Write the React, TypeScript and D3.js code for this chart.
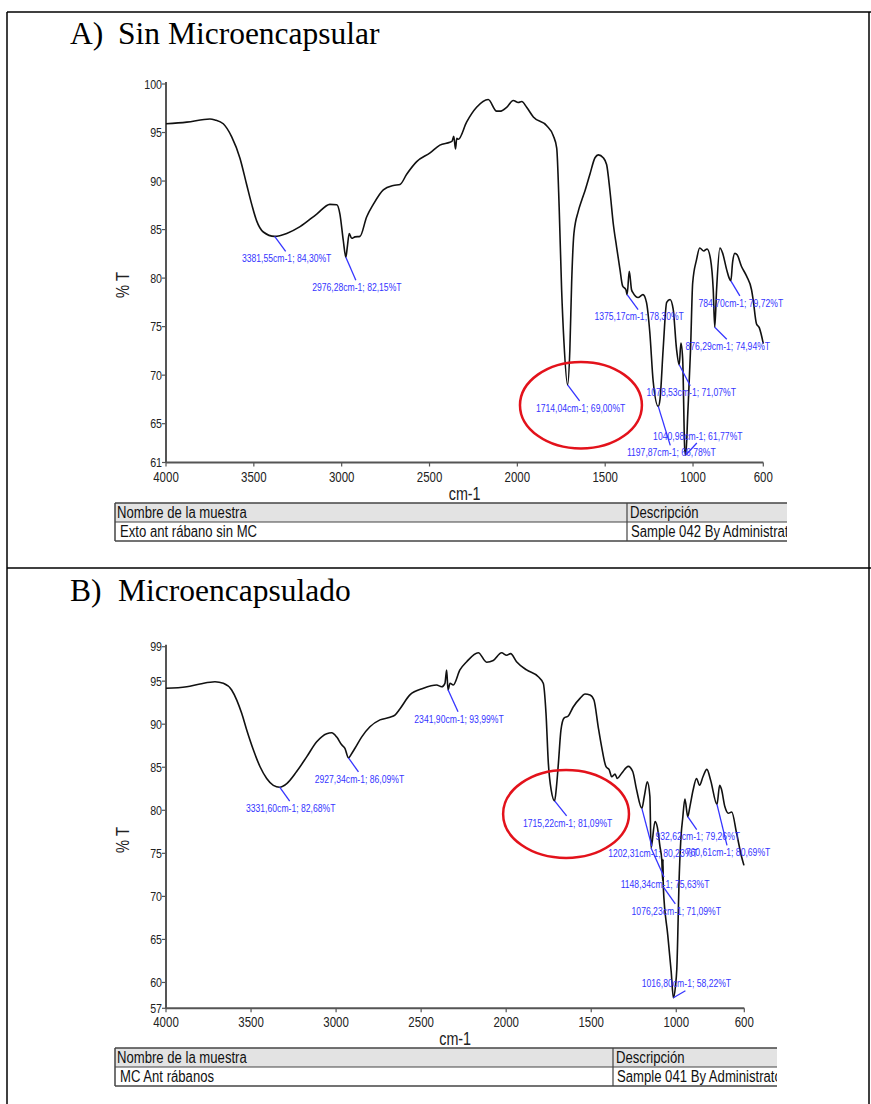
import React from 'react';
import * as d3 from 'd3';

// ---------- shared axis ticks ----------
const xTicks = [4000, 3500, 3000, 2500, 2000, 1500, 1000, 600];
const yTicksA = [100, 95, 90, 85, 80, 75, 70, 65, 61];
const yTicksB = [99, 95, 90, 85, 80, 75, 70, 65, 60, 57];

// ---------- spectrum A : Sin Microencapsular ----------
const wavenumberA = [
  4000, 3882, 3750, 3721, 3674, 3626, 3579, 3541, 3512, 3484, 3446, 3381.55, 3313, 3237, 3142, 3067, 3028, 3010, 2991,
  2976.28, 2968, 2957, 2943, 2924, 2896, 2858, 2820, 2763, 2706, 2668, 2630, 2573, 2497, 2441, 2384, 2372, 2362, 2352,
  2345, 2336, 2289, 2232, 2166, 2118, 2099, 2061, 2023, 1995, 1975, 1947, 1909, 1833, 1796, 1776, 1762, 1748, 1735,
  1714.04, 1701, 1691, 1678, 1653, 1634, 1615, 1587, 1558, 1539, 1511, 1492, 1473, 1454, 1435, 1416, 1401, 1382,
  1375.17, 1363, 1350, 1342, 1313, 1285, 1265, 1246, 1227, 1197.87, 1188, 1170, 1150, 1131, 1113, 1094, 1078.53, 1069,
  1059, 1047, 1040.98, 1030, 1014, 1002, 980, 962, 939, 920, 900, 885, 876.29, 866, 847, 832, 809, 794, 784.7, 775,
  762, 749, 724, 695, 667, 658, 639, 623, 600,
];
const transmittanceA = [
  95.9, 96.07, 96.4, 96.3, 95.9, 94.55, 92.36, 89.65, 87.6, 85.9, 84.75, 84.3, 84.6, 85.3, 86.6, 87.6, 87.55, 86.6, 83.9,
  82.15, 83.2, 84.6, 84.1, 84.25, 84.3, 86.3, 87.6, 89.1, 89.55, 89.65, 90.7, 92.0, 92.9, 93.7, 94.0, 94.1, 94.6, 93.3,
  94.4, 94.3, 96.07, 97.6, 98.4, 97.2, 97.2, 97.6, 98.3, 98.1, 98.2, 97.6, 96.6, 95.7, 94.7, 93.4, 87.3, 78.8, 73.5,
  69.0, 72.7, 79.5, 84.6, 86.9, 88.0, 89.0, 90.7, 92.4, 92.7, 92.4, 91.7, 89.0, 85.6, 83.2, 80.9, 79.2, 78.8,
  78.3, 80.7, 78.8, 78.5, 78.0, 78.3, 77.5, 74.4, 69.4, 66.78, 67.5, 72.7, 77.5, 77.8, 76.8, 72.7, 71.07, 73.3,
  71.7, 62.3, 61.77, 66.0, 72.7, 79.5, 81.9, 83.1, 82.8, 83.0, 81.9, 78.8, 74.94, 78.8, 83.1, 82.6, 80.9, 80.0, 79.72, 81.6,
  82.55, 82.4, 81.2, 80.2, 78.8, 77.8, 75.3, 74.9, 73.25,
];
const peakWavenumberA = [3381.55, 2976.28, 1714.04, 1375.17, 784.7, 876.29, 1078.53, 1040.98, 1197.87];
const peakTransmittanceA = [84.3, 82.15, 69.0, 78.3, 79.72, 74.94, 71.07, 61.77, 66.78];

// ---------- spectrum B : Microencapsulado ----------
const wavenumberB = [
  4000, 3878, 3800, 3712, 3663, 3614, 3584, 3555, 3525, 3486, 3447, 3408, 3369, 3331.6, 3290, 3232, 3173, 3114, 3055,
  3026, 2996, 2967, 2948, 2927.34, 2908, 2889, 2850, 2801, 2742, 2683, 2654, 2624, 2566, 2487, 2409, 2379, 2360, 2350,
  2341.9, 2330, 2311, 2272, 2232, 2164, 2115, 2076, 2027, 1997, 1974, 1939, 1880, 1811, 1782, 1766, 1752, 1735,
  1715.22, 1705, 1693, 1678, 1660, 1635, 1606, 1566, 1537, 1507, 1484, 1459, 1439, 1413, 1394, 1380, 1360, 1347, 1321,
  1282, 1256, 1233, 1202.31, 1188, 1170, 1155, 1148.34, 1125, 1112, 1096, 1085, 1080, 1078, 1076.23, 1050, 1030,
  1016.8, 1005, 997, 982, 970, 963, 949, 932.62, 920, 901, 881, 863, 843, 820, 798, 760.61, 745, 735, 714, 694, 674,
  645, 616, 602,
];
const transmittanceB = [
  94.17, 94.35, 94.67, 94.93, 94.75, 93.97, 92.8, 91.26, 89.3, 87.0, 85.06, 83.7, 82.9, 82.68, 83.1, 84.5, 86.2, 87.96, 88.9,
  89.0, 88.5, 87.6, 87.2, 86.09, 86.6, 87.2, 88.5, 89.7, 90.5, 90.8, 91.06, 91.8, 93.4, 94.17, 94.55, 94.35, 94.75, 96.3,
  93.99, 94.75, 94.55, 96.3, 97.26, 98.3, 97.2, 97.4, 98.3, 98.0, 98.2, 97.26, 96.3, 95.5, 94.75, 91.3, 85.45, 82.3,
  81.09, 82.6, 85.45, 89.3, 90.7, 90.95, 92.0, 93.0, 93.5, 93.4, 92.8, 89.7, 87.4, 85.06, 84.7, 83.9, 84.2, 83.7, 84.3,
  85.1, 84.5, 82.35, 80.23, 81.6, 83.3, 81.6, 75.63, 78.7, 78.1, 75.8, 74.2, 71.8, 74.3, 71.09, 65.5, 61.3,
  58.22, 59.5, 61.5, 72.7, 77.5, 78.9, 81.3, 79.26, 80.4, 82.35, 83.7, 82.9, 83.9, 84.75, 83.5, 80.69, 82.9, 82.5, 80.4, 79.65, 79.8,
  77.3, 74.6, 73.6,
];
const peakWavenumberB = [3331.6, 2927.34, 2341.9, 1715.22, 1202.31, 1148.34, 1076.23, 1016.8, 932.62, 760.61];
const peakTransmittanceB = [82.68, 86.09, 93.99, 81.09, 80.23, 75.63, 71.09, 58.22, 79.26, 80.69];

// ---------- layout (pixel offsets of the peak leader lines) ----------
const leaderA = [[11, 15], [10, 23], [12, 16], [11, 15], [9, 15], [12, 12], [11, 21], [11, -12], [12, 39]];
const leaderB = [[10, 14], [10, 14], [10, 22], [12, 15], [10, 38], [13, 29], [12, 17], [12, -7], [9, 13], [10, 41]];

const SANS = "'Liberation Sans', Arial, sans-serif";
const SERIF = "'Liberation Serif', 'Times New Roman', serif";
const BLUE = '#3535ff';
const AXIS = '#555555';
const NARROW_SCALE = 0.82;

const fmt = (v: number) => d3.format('.2f')(v).replace('.', ',');

// text drawn with a horizontal squeeze to imitate Arial Narrow
function NText({
  x,
  y,
  size,
  anchor = 'start',
  fill = '#222',
  rotate = 0,
  dy,
  children,
}: {
  x: number;
  y: number;
  size: number;
  anchor?: string;
  fill?: string;
  rotate?: number;
  dy?: string;
  children: React.ReactNode;
}) {
  return (
    <text
      transform={`translate(${x},${y})${rotate ? ` rotate(${rotate})` : ''} scale(${NARROW_SCALE},1)`}
      textAnchor={anchor as any}
      fontFamily={SANS}
      fontSize={size}
      fill={fill}
      dy={dy}
    >
      {children}
    </text>
  );
}

type Cfg = {
  id: string;
  letter: string;
  title: string;
  titleY: number;
  wn: number[];
  t: number[];
  pw: number[];
  pt: number[];
  leader: number[][];
  xRange: [number, number];
  yDomain: [number, number];
  yRange: [number, number];
  yTicks: number[];
  yLabelY: number;
  circle: { wn: number; t: number; halfWn: number; halfT: number };
  tableY: number;
  tableX0: number;
  tableCol: number;
  tableX1: number;
  name: string;
  desc: string;
};

function Panel({ c }: { c: Cfg }) {
  const x = d3.scaleLinear().domain([4000, 600]).range(c.xRange);
  const y = d3.scaleLinear().domain(c.yDomain).range(c.yRange);
  const line = d3
    .line<number>()
    .x((w) => x(w))
    .y((_, i) => y(c.t[i]))
    .curve(d3.curveMonotoneX);
  const path = line(c.wn) || '';
  const axisY = c.yRange[0];
  const axisTop = c.yRange[1];
  const rowH = 19;
  const ellCx = x(c.circle.wn);
  const ellCy = y(c.circle.t);
  const ellRx = Math.abs(x(c.circle.wn + c.circle.halfWn) - ellCx);
  const ellRy = Math.abs(y(c.circle.t + c.circle.halfT) - ellCy);
  return (
    <g>
      <text x={70} y={c.titleY} fontFamily={SERIF} fontSize={31.5} fill="#000">
        {c.letter}
      </text>
      <text x={118} y={c.titleY} fontFamily={SERIF} fontSize={31.5} fill="#000">
        {c.title}
      </text>

      {/* axes */}
      <line x1={c.xRange[0]} x2={c.xRange[0]} y1={axisTop - 2} y2={axisY} stroke={AXIS} strokeWidth={2} />
      <line x1={c.xRange[0]} x2={c.xRange[1]} y1={axisY} y2={axisY} stroke={AXIS} strokeWidth={2} />
      {c.yTicks.map((v) => (
        <g key={'y' + v}>
          <line x1={c.xRange[0] - 4} x2={c.xRange[0]} y1={y(v)} y2={y(v)} stroke={AXIS} strokeWidth={1.2} />
          <NText x={c.xRange[0] - 4} y={y(v)} dy="0.35em" anchor="end" size={13}>
            {v}
          </NText>
        </g>
      ))}
      {xTicks.map((v) => (
        <g key={'x' + v}>
          <line x1={x(v)} x2={x(v)} y1={axisY} y2={axisY + 4} stroke={AXIS} strokeWidth={1.2} />
          <NText x={x(v)} y={axisY + 19} anchor="middle" size={14}>
            {v}
          </NText>
        </g>
      ))}
      <NText x={(c.xRange[0] + c.xRange[1]) / 2} y={axisY + 37} anchor="middle" size={17.5}>
        cm-1
      </NText>
      <NText x={c.xRange[0] - 37} y={c.yLabelY} rotate={-90} anchor="middle" size={18}>
        % T
      </NText>

      {/* spectrum */}
      <path d={path} fill="none" stroke="#111" strokeWidth={1.6} strokeLinejoin="round" />

      {/* peak annotations */}
      {c.pw.map((w, i) => {
        const px = x(w);
        const py = y(c.pt[i]);
        const [dx, dy] = c.leader[i];
        const ex = px + dx;
        const ey = py + dy;
        return (
          <g key={'p' + i}>
            <line x1={px} y1={py} x2={ex} y2={ey} stroke={BLUE} strokeWidth={1.3} />
            <NText x={ex + 1} y={dy > 0 ? ey + 7 : ey - 7} dy="0.35em" anchor="middle" size={10.5} fill={BLUE}>
              {`${fmt(w)}cm-1; ${fmt(c.pt[i])}%T`}
            </NText>
          </g>
        );
      })}

      {/* red highlight */}
      <ellipse cx={ellCx} cy={ellCy} rx={ellRx} ry={ellRy} fill="none" stroke="#e3121b" strokeWidth={2.5} />

      {/* table */}
      <defs>
        <clipPath id={'clip' + c.id}>
          <rect x={c.tableX0 - 2} y={c.tableY - 2} width={c.tableX1 - c.tableX0 + 2} height={rowH * 2 + 4} />
        </clipPath>
      </defs>
      <g clipPath={`url(#clip${c.id})`}>
        <rect x={c.tableX0} y={c.tableY} width={c.tableX1 - c.tableX0 + 10} height={rowH} fill="#e3e3e3" />
        <rect x={c.tableX0} y={c.tableY + rowH} width={c.tableX1 - c.tableX0 + 10} height={rowH} fill="#fff" />
        <line x1={c.tableX0} x2={c.tableX1} y1={c.tableY} y2={c.tableY} stroke="#444" strokeWidth={1.5} />
        <line x1={c.tableX0} x2={c.tableX1} y1={c.tableY + rowH} y2={c.tableY + rowH} stroke="#444" strokeWidth={1.2} />
        <line x1={c.tableX0} x2={c.tableX1} y1={c.tableY + 2 * rowH} y2={c.tableY + 2 * rowH} stroke="#444" strokeWidth={1.5} />
        <line x1={c.tableX0} x2={c.tableX0} y1={c.tableY} y2={c.tableY + 2 * rowH} stroke="#444" strokeWidth={1.5} />
        <line x1={c.tableCol} x2={c.tableCol} y1={c.tableY} y2={c.tableY + 2 * rowH} stroke="#444" strokeWidth={1.2} />
        <NText x={c.tableX0 + 2} y={c.tableY + 15} size={16} fill="#111">
          Nombre de la muestra
        </NText>
        <NText x={c.tableCol + 3} y={c.tableY + 15} size={16} fill="#111">
          Descripción
        </NText>
        <NText x={c.tableX0 + 5} y={c.tableY + rowH + 14.5} size={16} fill="#111">
          {c.name}
        </NText>
        <NText x={c.tableCol + 4} y={c.tableY + rowH + 14.5} size={16} fill="#111">
          {c.desc}
        </NText>
      </g>
    </g>
  );
}

const panelA: Cfg = {
  id: 'A',
  letter: 'A)',
  title: 'Sin Microencapsular',
  titleY: 44,
  wn: wavenumberA,
  t: transmittanceA,
  pw: peakWavenumberA,
  pt: peakTransmittanceA,
  leader: leaderA,
  xRange: [166, 763.3],
  yDomain: [61, 100],
  yRange: [462.5, 84],
  yTicks: yTicksA,
  yLabelY: 285,
  circle: { wn: 1638, t: 66.9, halfWn: 347, halfT: 4.46 },
  tableY: 503,
  tableX0: 115,
  tableCol: 627,
  tableX1: 787,
  name: 'Exto ant rábano sin MC',
  desc: 'Sample 042 By Administrator',
};

const panelB: Cfg = {
  id: 'B',
  letter: 'B)',
  title: 'Microencapsulado',
  titleY: 601,
  wn: wavenumberB,
  t: transmittanceB,
  pw: peakWavenumberB,
  pt: peakTransmittanceB,
  leader: leaderB,
  xRange: [166, 744.3],
  yDomain: [57, 99],
  yRange: [1008.3, 646.7],
  yTicks: yTicksB,
  yLabelY: 840,
  circle: { wn: 1648, t: 79.57, halfWn: 370, halfT: 5.11 },
  tableY: 1048,
  tableX0: 115,
  tableCol: 613,
  tableX1: 777,
  name: 'MC Ant rábanos',
  desc: 'Sample 041 By Administrator',
};

export default function App() {
  return (
    <svg
      width={871}
      height={1104}
      viewBox="0 0 871 1104"
      style={{ position: 'absolute', left: 0, top: 0, background: '#fff' }}
    >
      <rect x={0} y={0} width={871} height={1104} fill="#fff" />
      {/* document frame */}
      <line x1={7} x2={871} y1={12} y2={12} stroke="#000" strokeWidth={1.5} />
      <line x1={7} x2={7} y1={12} y2={1104} stroke="#000" strokeWidth={1.5} />
      <line x1={869} x2={869} y1={12} y2={1104} stroke="#000" strokeWidth={1.5} />
      <line x1={7} x2={871} y1={568} y2={568} stroke="#000" strokeWidth={1.5} />
      <Panel c={panelA} />
      <Panel c={panelB} />
    </svg>
  );
}
